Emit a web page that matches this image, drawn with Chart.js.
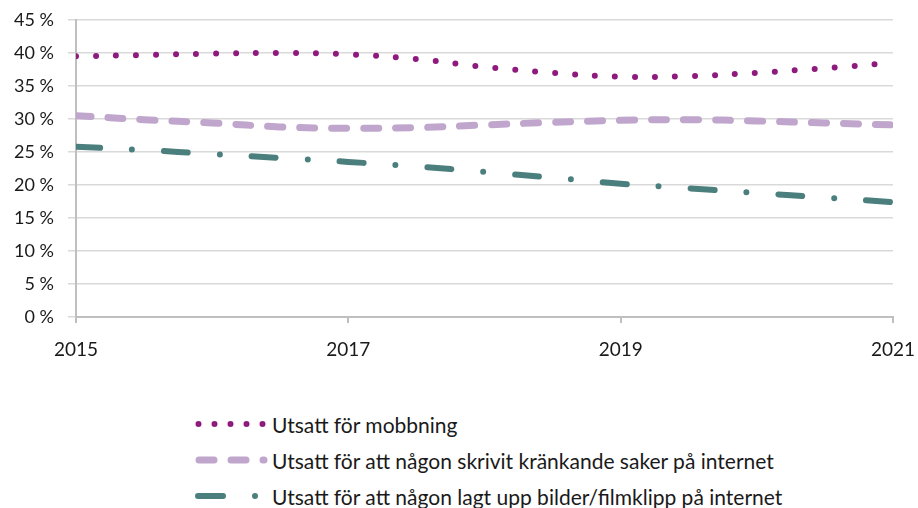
<!DOCTYPE html>
<html>
<head>
<meta charset="utf-8">
<script src="https://cdn.jsdelivr.net/npm/chart.js@4"></script>
<style>
  body { margin: 0; background: #fff; width: 918px; height: 508px; overflow: hidden; font-family: Lato, sans-serif; }
  #wrap { position: absolute; left: 0; top: 0; width: 918px; height: 365px; }
  #legend { position: absolute; left: 195px; top: 406px; font-size: 21px; color: #1a1a1a; }
  .row { height: 36px; display: flex; align-items: center; white-space: nowrap; }
</style>
</head>
<body>
<div id="wrap"><canvas id="myChart"></canvas></div>
<div id="legend"></div>
<script>
// half-year points
var years = [2015, 2015.5, 2016, 2016.5, 2017, 2017.5, 2018, 2018.5, 2019, 2019.5, 2020, 2020.5, 2021];
var mobbning = [39.5, 39.7, 39.9, 40.0, 39.8, 39.1, 37.9, 37.0, 36.4, 36.5, 37.0, 37.7, 38.5];
var krankande = [30.5, 29.9, 29.4, 28.8, 28.6, 28.7, 29.1, 29.5, 29.8, 29.9, 29.7, 29.4, 29.1];
var bilder = [25.8, 25.3, 24.7, 24.1, 23.5, 22.8, 22.0, 21.1, 20.2, 19.5, 18.8, 18.1, 17.4];
var yearTicks = [2015, 2017, 2019, 2021];
var labels = [
    'Utsatt för mobbning',
    'Utsatt för att någon skrivit kränkande saker på internet',
    'Utsatt för att någon lagt upp bilder/filmklipp på internet'
];
var colors = ['#8e1a7e', '#c0a6cc', '#4a7f7d'];
var widths = [6, 7, 6];
var dashes = [[0, 20], [15, 17], [24, 32, 0, 32]];

function pts(vals) {
    return vals.map(function (v, i) { return { x: years[i], y: v }; });
}

var series = [mobbning, krankande, bilder];
var datasets = series.map(function (vals, i) {
    return {
        label: labels[i],
        data: pts(vals),
        borderColor: colors[i],
        borderWidth: widths[i],
        borderDash: dashes[i],
        borderCapStyle: 'round',
        pointRadius: 0,
        tension: 0.4,
        fill: false
    };
});

var ctx = document.getElementById('myChart').getContext('2d');
var chart = new Chart(ctx, {
    type: 'line',
    data: { datasets: datasets },
    options: {
        responsive: true,
        maintainAspectRatio: false,
        animation: false,
        layout: { padding: { left: 0, right: 25, top: 20, bottom: 0 } },
        plugins: { legend: { display: false }, tooltip: { enabled: false } },
        scales: {
            x: {
                type: 'linear',
                min: 2015,
                max: 2021,
                afterBuildTicks: function (scale) {
                    scale.ticks = yearTicks.map(function (v) { return { value: v }; });
                },
                afterFit: function (scale) {
                    scale.height = 48;
                    scale.paddingLeft = 0;
                    scale.paddingRight = 0;
                },
                ticks: {
                    padding: 15,
                    maxRotation: 0,
                    color: '#1a1a1a',
                    font: { family: 'Lato', size: 19 },
                    callback: function (v) { return String(v); }
                },
                grid: { drawOnChartArea: false, drawTicks: true, tickLength: 6, color: '#bfbfbf', lineWidth: 2 },
                border: { color: '#bfbfbf', width: 2 }
            },
            y: {
                min: 0,
                max: 45,
                afterFit: function (scale) {
                    scale.width = 76;
                    scale.paddingTop = 0;
                    scale.paddingBottom = 0;
                },
                ticks: {
                    stepSize: 5,
                    padding: 14,
                    color: '#1a1a1a',
                    font: { family: 'Lato', size: 18 },
                    callback: function (v) { return v + ' %'; }
                },
                grid: { color: '#d9d9d9', lineWidth: 1.5, tickLength: 8 },
                border: { color: '#bfbfbf', width: 2 }
            }
        }
    }
});

// legend below the chart: sample line + text
var legend = document.getElementById('legend');
var legLine = [[3.5, 68, [0, 16]], [4, 69, [15, 17]], [3, 61, [25, 32, 0, 100]]];
labels.forEach(function (lab, i) {
    var row = document.createElement('div');
    row.className = 'row';
    var l = legLine[i];
    var svg = '<svg width="77" height="12"><line x1="' + l[0] + '" y1="6" x2="' + l[1] + '" y2="6" stroke="' + colors[i] +
        '" stroke-width="' + widths[i] + '" stroke-linecap="round" stroke-dasharray="' + l[2].join(' ') + '"/></svg>';
    row.innerHTML = svg + '<span>' + lab + '</span>';
    legend.appendChild(row);
});
</script>
</body>
</html>
